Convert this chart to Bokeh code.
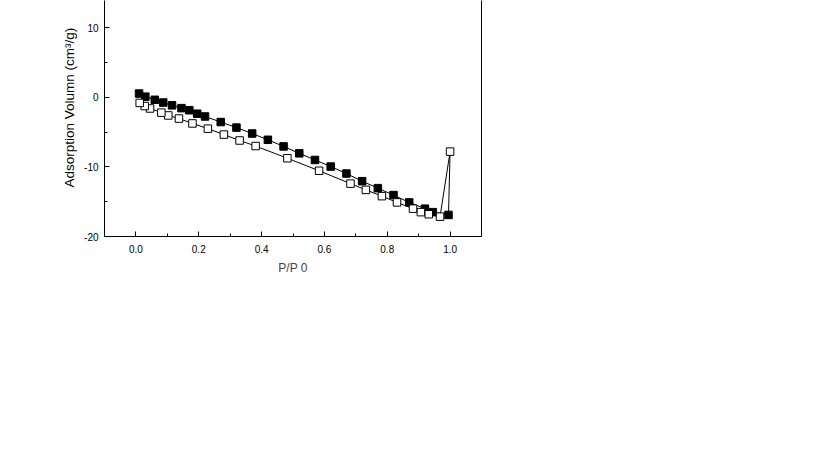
from bokeh.plotting import figure
from bokeh.models import Range1d, LinearAxis, FixedTicker, Title
from bokeh.embed import file_html
from bokeh.resources import INLINE

# Adsorption branch (filled squares)
ads_x = [0.01, 0.03, 0.06, 0.087, 0.115, 0.145, 0.17, 0.195, 0.22, 0.27, 0.32, 0.37,
         0.42, 0.47, 0.52, 0.57, 0.62, 0.67, 0.72, 0.77, 0.82, 0.87, 0.92, 0.945, 0.995]
ads_y = [0.55, 0.1, -0.35, -0.75, -1.15, -1.55, -1.85, -2.35, -2.75, -3.55, -4.35, -5.2,
         -6.1, -7.05, -8.05, -9.0, -9.95, -10.95, -12.05, -13.05, -14.05, -15.1, -16.0, -16.5, -16.9]

# Desorption branch (open squares)
des_x = [1.0, 0.968, 0.932, 0.907, 0.882, 0.831, 0.783, 0.732, 0.683, 0.583, 0.482, 0.381,
         0.33, 0.28, 0.229, 0.18, 0.137, 0.103, 0.081, 0.045, 0.028, 0.012]
des_y = [-7.8, -17.15, -16.8, -16.5, -16.0, -15.1, -14.2, -13.3, -12.4, -10.55, -8.75, -7.0,
         -6.2, -5.35, -4.5, -3.75, -3.05, -2.6, -2.2, -1.6, -1.25, -0.8]

x_ticks = [0.0, 0.2, 0.4, 0.6, 0.8, 1.0]
x_tick_labels = ["0.0", "0.2", "0.4", "0.6", "0.8", "1.0"]
x_minor = [-0.1, 0.1, 0.3, 0.5, 0.7, 0.9, 1.1]
y_ticks = [-20, -10, 0, 10]
y_tick_labels = ["-20", "-10", "0", "10"]
y_minor = [-15, -5, 5]

x_label = "P/P 0"
y_label = "Adsorption Volumn (cm\u00b3/g)"

FONT = "Liberation Sans"

p = figure(width=490, height=300, x_range=Range1d(-0.1, 1.1), y_range=Range1d(-20, 13.92),
           output_backend="svg", toolbar_location=None,
           min_border_left=104, min_border_right=9, min_border_top=0, min_border_bottom=64)
p.outline_line_color = None
p.grid.visible = False
p.background_fill_color = "white"
p.border_fill_color = "white"

for ax in (p.xaxis[0], p.yaxis[0]):
    ax.axis_line_color = "black"
    ax.axis_line_width = 1
    ax.major_tick_in = 5
    ax.major_tick_out = 0
    ax.minor_tick_in = 3
    ax.minor_tick_out = 0
    ax.major_tick_line_color = "black"
    ax.minor_tick_line_color = "black"
    ax.major_label_text_font = FONT
    ax.major_label_text_font_size = "10px"
    ax.major_label_text_color = "black"

p.xaxis[0].ticker = FixedTicker(ticks=x_ticks, minor_ticks=x_minor)
p.xaxis[0].major_label_overrides = dict(zip(x_ticks, x_tick_labels))
p.xaxis[0].major_label_standoff = 8
p.xaxis[0].axis_label = x_label
p.xaxis[0].axis_label_text_font = FONT
p.xaxis[0].axis_label_text_font_size = "12px"
p.xaxis[0].axis_label_text_font_style = "normal"
p.xaxis[0].axis_label_standoff = 5

p.yaxis[0].ticker = FixedTicker(ticks=y_ticks, minor_ticks=y_minor)
p.yaxis[0].major_label_overrides = dict(zip(y_ticks, y_tick_labels))
p.yaxis[0].major_label_standoff = 6

right = LinearAxis(ticker=FixedTicker(ticks=[]), major_label_text_font_size="0px",
                   axis_line_color="black", major_tick_line_color=None, minor_tick_line_color=None)
p.add_layout(right, "right")

p.add_layout(Title(text=y_label, align="left", offset=49, standoff=10,
                   text_font=FONT, text_font_size="13.5px", text_font_style="normal",
                   text_color="black"), "left")

p.line(ads_x + [des_x[0]], ads_y + [des_y[0]], line_color="black", line_width=1)
p.line(des_x, des_y, line_color="black", line_width=1)
p.scatter(ads_x, ads_y, marker="square", size=7.5, fill_color="black", line_color="black")
p.scatter(des_x, des_y, marker="square", size=7.5, fill_color="white", line_color="black", line_width=1)

open("out.html", "w").write(file_html(p, INLINE))
